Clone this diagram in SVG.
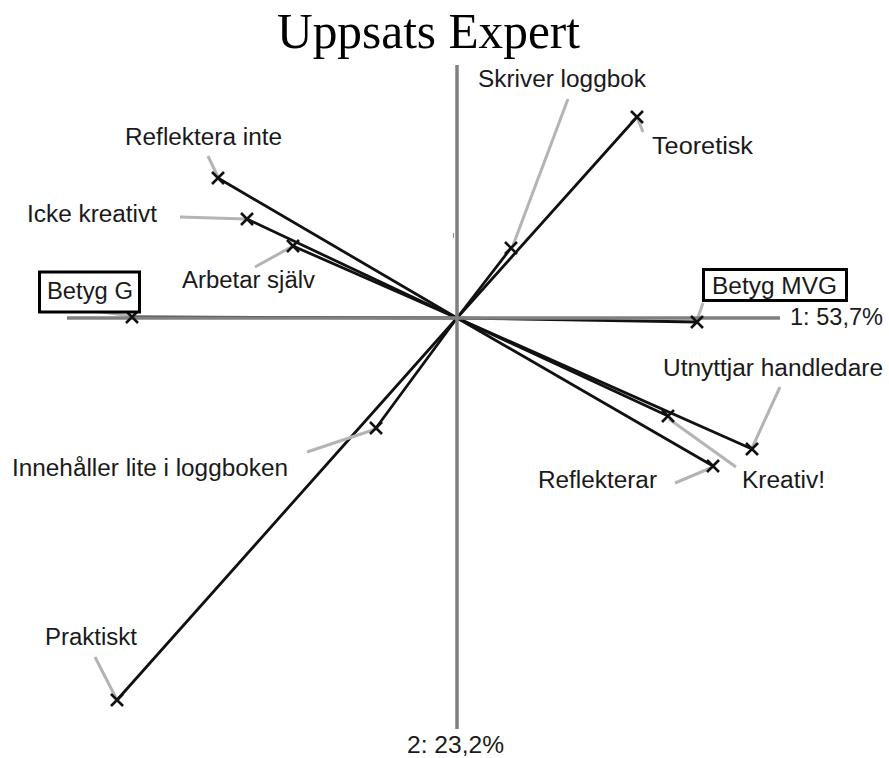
<svg xmlns="http://www.w3.org/2000/svg" width="889" height="758" viewBox="0 0 889 758">
  <style>
    .lbl { font-family: "Liberation Sans", Arial, sans-serif; font-size: 23px; fill: #1a1a1a; }
    .title { font-family: "Liberation Serif", "Times New Roman", serif; font-size: 50px; fill: #000; }
    .vec { stroke: #111; stroke-width: 2.8; fill: none; stroke-linecap: round; }
    .lead { stroke: #b4b4b4; stroke-width: 3; fill: none; }
    .axis { stroke: #808080; stroke-width: 3.5; fill: none; }
    .box { fill: #fff; stroke: #000; stroke-width: 3; }
  </style>
  <defs>
    <path id="cross" d="M-6,-6 L6,6 M-6,6 L6,-6" stroke="#111" stroke-width="2.6" fill="none"/>
  </defs>

  <rect width="889" height="758" fill="#fff"/>

  <text class="title" x="277" y="48" textLength="303" lengthAdjust="spacingAndGlyphs">Uppsats Expert</text>

  <!-- vectors from the origin to each point -->
  <g id="connectors">
    <line class="vec" x1="457" y1="318" x2="637" y2="117"/>
    <line class="vec" x1="457" y1="318" x2="511" y2="248"/>
    <line class="vec" x1="457" y1="318" x2="218" y2="178"/>
    <line class="vec" x1="457" y1="318" x2="247" y2="219"/>
    <line class="vec" x1="457" y1="318" x2="293" y2="246"/>
    <line class="vec" x1="457" y1="318" x2="132" y2="317"/>
    <line class="vec" x1="457" y1="318" x2="697" y2="322"/>
    <line class="vec" x1="457" y1="318" x2="752" y2="449"/>
    <line class="vec" x1="457" y1="318" x2="668" y2="416"/>
    <line class="vec" x1="457" y1="318" x2="713" y2="466"/>
    <line class="vec" x1="457" y1="318" x2="376" y2="428"/>
    <line class="vec" x1="457" y1="318" x2="117" y2="700"/>
  </g>

  <!-- label leader lines -->
  <g id="leaders">
    <line class="lead" x1="568" y1="99" x2="512" y2="248"/>
    <line class="lead" x1="637" y1="117" x2="643" y2="132"/>
    <line class="lead" x1="208" y1="156" x2="218" y2="177"/>
    <line class="lead" x1="180" y1="217" x2="246" y2="219"/>
    <line class="lead" x1="255" y1="267" x2="293" y2="246"/>
    <line class="lead" x1="95" y1="311" x2="131" y2="316"/>
    <line class="lead" x1="703" y1="303" x2="697" y2="320"/>
    <line class="lead" x1="780" y1="387" x2="752" y2="448"/>
    <line class="lead" x1="669" y1="419" x2="736" y2="467"/>
    <line class="lead" x1="675" y1="483" x2="713" y2="467"/>
    <line class="lead" x1="307" y1="452" x2="376" y2="429"/>
    <line class="lead" x1="95" y1="657" x2="116" y2="698"/>
  </g>

  <!-- axes -->
  <g id="axes">
    <line class="axis" x1="67" y1="318" x2="780" y2="318"/>
    <line class="axis" x1="457" y1="65" x2="457" y2="729"/>
    <line x1="453.5" y1="233" x2="453.5" y2="238" stroke="#909090" stroke-width="1"/>
    <text class="lbl" x="790" y="325" textLength="93" lengthAdjust="spacingAndGlyphs">1: 53,7%</text>
    <text class="lbl" x="407" y="753" textLength="97" lengthAdjust="spacingAndGlyphs">2: 23,2%</text>
  </g>

  <g id="teoretisk">
    <use href="#cross" x="637" y="117"/>
    <text class="lbl" x="652" y="154" textLength="101" lengthAdjust="spacingAndGlyphs">Teoretisk</text>
  </g>
  <g id="skriver-loggbok">
    <use href="#cross" x="511" y="248"/>
    <text class="lbl" x="478" y="87" textLength="168" lengthAdjust="spacingAndGlyphs">Skriver loggbok</text>
  </g>
  <g id="reflektera-inte">
    <use href="#cross" x="218" y="178"/>
    <text class="lbl" x="125" y="145" textLength="157" lengthAdjust="spacingAndGlyphs">Reflektera inte</text>
  </g>
  <g id="icke-kreativt">
    <use href="#cross" x="247" y="219"/>
    <text class="lbl" x="27" y="222" textLength="130" lengthAdjust="spacingAndGlyphs">Icke kreativt</text>
  </g>
  <g id="arbetar-sjalv">
    <use href="#cross" x="293" y="246"/>
    <text class="lbl" x="182" y="288" textLength="133" lengthAdjust="spacingAndGlyphs">Arbetar själv</text>
  </g>
  <g id="betyg-g">
    <use href="#cross" x="132" y="317"/>
    <rect class="box" x="39.5" y="272" width="100" height="40"/>
    <text class="lbl" x="47" y="299" textLength="86" lengthAdjust="spacingAndGlyphs">Betyg G</text>
  </g>
  <g id="betyg-mvg">
    <use href="#cross" x="697" y="322"/>
    <rect class="box" x="703.5" y="269.5" width="143" height="31"/>
    <text class="lbl" x="712" y="294" textLength="125" lengthAdjust="spacingAndGlyphs">Betyg MVG</text>
  </g>
  <g id="utnyttjar-handledare">
    <use href="#cross" x="752" y="449"/>
    <text class="lbl" x="663" y="376" textLength="220" lengthAdjust="spacingAndGlyphs">Utnyttjar handledare</text>
  </g>
  <g id="kreativ">
    <use href="#cross" x="668" y="416"/>
    <text class="lbl" x="742" y="488" textLength="83" lengthAdjust="spacingAndGlyphs">Kreativ!</text>
  </g>
  <g id="reflekterar">
    <use href="#cross" x="713" y="466"/>
    <text class="lbl" x="538" y="488" textLength="119" lengthAdjust="spacingAndGlyphs">Reflekterar</text>
  </g>
  <g id="innehaller-lite">
    <use href="#cross" x="376" y="428"/>
    <text class="lbl" x="12" y="476" textLength="276" lengthAdjust="spacingAndGlyphs">Innehåller lite i loggboken</text>
  </g>
  <g id="praktiskt">
    <use href="#cross" x="117" y="700"/>
    <text class="lbl" x="45" y="645" textLength="92" lengthAdjust="spacingAndGlyphs">Praktiskt</text>
  </g>
</svg>
